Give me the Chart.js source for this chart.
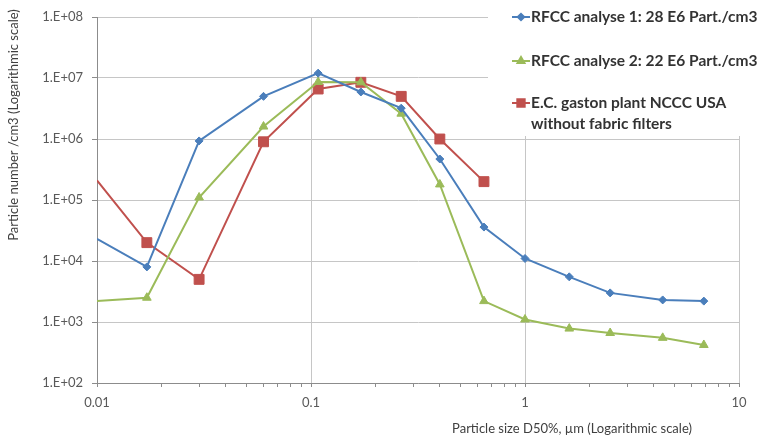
<!DOCTYPE html>
<html>
<head>
<meta charset="utf-8">
<script src="https://cdn.jsdelivr.net/npm/chart.js@4.4.1/dist/chart.umd.min.js"></script>
<style>
  html, body { margin: 0; padding: 0; background: #fff; }
  #wrap { width: 759px; height: 440px; }
</style>
</head>
<body>
<div id="wrap"><canvas id="chart"></canvas></div>
<script>
// particle size D50% (µm) and particle counts per cm3
const sizes = [0.01, 0.0171, 0.030, 0.060, 0.108, 0.171, 0.264, 0.40, 0.643, 1.0, 1.61, 2.5, 4.4, 6.85];
const rfcc1 = [23000, 8000, 930000, 5000000, 12000000, 5900000, 3200000, 470000, 36000, 11000, 5500, 3000, 2300, 2200];
const rfcc2 = [2200, 2500, 110000, 1600000, 8600000, 8500000, 2600000, 180000, 2200, 1100, 780, 660, 550, 420];
const gaston = [210000, 20000, 5000, 900000, 6600000, 8500000, 5000000, 1000000, 200000];

const seriesNames = [
    ['RFCC analyse 1: 28 E6 Part./cm3'],
    ['RFCC analyse 2: 22 E6 Part./cm3'],
    ['E.C. gaston plant NCCC USA', 'without fabric filters']
];
const seriesColors = ['#4a7ebb', '#9bbb59', '#c0504d'];

const yTicks = [1e2, 1e3, 1e4, 1e5, 1e6, 1e7, 1e8];
const yTickLabels = ['1.E+02', '1.E+03', '1.E+04', '1.E+05', '1.E+06', '1.E+07', '1.E+08'];
const xMajor = [0.01, 0.1, 1, 10];
const xMajorLabels = ['0.01', '0.1', '1', '10'];

const xTitle = 'Particle size D50%, µm (Logarithmic scale)';
const yTitle = 'Particle number /cm3 (Logarithmic scale)';

const FONT = 'Lato, "Open Sans", sans-serif';

// minor ticks 2..9 inside each decade
let xAllTicks = [];
for (let d = 0; d < 3; d++) {
    for (let m = 1; m < 10; m++) {
        xAllTicks.push(+(m * xMajor[d]).toPrecision(3));
    }
}
xAllTicks.push(10);

function isMajor(v) {
    return xMajor.some(m => Math.abs(m - v) < 1e-9);
}

function toPoints(values) {
    return values.map((v, i) => ({x: sizes[i], y: v}));
}

// first point sits on the axis with no marker
function radii(values, r) {
    return values.map((v, i) => i === 0 ? 0 : r);
}

// legend on the right, over the top of the plot, plus axis titles
const decorPlugin = {
    id: 'decor',
    afterDraw(chart) {
        const c = chart.ctx;
        c.save();
        c.fillStyle = '#ffffff';
        c.fillRect(488, 0, 271, 136);

        const styles = ['rectRot', 'triangle', 'rect'];
        const sizesPt = [4, 5, 6.5];
        const rows = [17, 61, 103];
        c.font = 'bold 15.5px ' + FONT;
        c.textBaseline = 'middle';
        c.textAlign = 'left';
        for (let i = 0; i < 3; i++) {
            const y = rows[i];
            c.strokeStyle = seriesColors[i];
            c.lineWidth = 2;
            c.beginPath();
            c.moveTo(512, y);
            c.lineTo(530, y);
            c.stroke();
            c.fillStyle = seriesColors[i];
            Chart.helpers.drawPoint(c, {
                pointStyle: styles[i], radius: sizesPt[i] * 0.8, rotation: 0, borderWidth: 1
            }, 521, y);
            c.fillStyle = '#333333';
            seriesNames[i].forEach((line, k) => {
                c.fillText(line, 531, y + k * 21);
            });
        }

        c.fillStyle = '#404040';
        c.font = '13px ' + FONT;
        c.textAlign = 'center';
        c.fillText(xTitle, 572, 429);

        c.translate(14, 125);
        c.rotate(-Math.PI / 2);
        c.fillText(yTitle, 0, 0);
        c.restore();
    }
};

function dataset(label, values, color, style, r) {
    return {
        label: label,
        data: toPoints(values),
        showLine: true,
        borderColor: color,
        backgroundColor: color,
        borderWidth: 2,
        pointStyle: style,
        pointRadius: radii(values, r),
        pointBorderWidth: 1,
        pointHoverRadius: radii(values, r),
        tension: 0
    };
}

new Chart(document.getElementById('chart'), {
    type: 'scatter',
    data: {
        datasets: [
            dataset(seriesNames[0].join(' '), rfcc1, seriesColors[0], 'rectRot', 4),
            dataset(seriesNames[1].join(' '), rfcc2, seriesColors[1], 'triangle', 5),
            dataset(seriesNames[2].join(' '), gaston, seriesColors[2], 'rect', 7)
        ]
    },
    options: {
        responsive: true,
        maintainAspectRatio: false,
        animation: false,
        layout: {padding: {top: 17, right: 20, left: 0, bottom: 0}},
        plugins: {
            legend: {display: false},
            tooltip: {enabled: false}
        },
        scales: {
            x: {
                type: 'logarithmic',
                min: 0.01,
                max: 10,
                afterBuildTicks: scale => {
                    scale.ticks = xAllTicks.map(v => ({value: v}));
                },
                afterFit: scale => { scale.height = 57; },
                ticks: {
                    autoSkip: false,
                    maxRotation: 0,
                    padding: 8,
                    color: '#595959',
                    font: {family: FONT, size: 13},
                    callback: value => {
                        const idx = xMajor.findIndex(m => Math.abs(m - value) < 1e-9);
                        return idx >= 0 ? xMajorLabels[idx] : '';
                    }
                },
                grid: {
                    color: ctx => (ctx.tick && isMajor(ctx.tick.value)) ? '#c6c6c6' : 'rgba(0,0,0,0)',
                    tickColor: '#8c8c8c',
                    tickLength: 4
                },
                border: {color: '#8c8c8c'}
            },
            y: {
                type: 'logarithmic',
                min: 100,
                max: 1e8,
                afterBuildTicks: scale => {
                    scale.ticks = yTicks.map(v => ({value: v}));
                },
                afterFit: scale => { scale.width = 97; },
                ticks: {
                    padding: 9,
                    color: '#595959',
                    font: {family: FONT, size: 13},
                    callback: value => {
                        const idx = yTicks.findIndex(t => Math.abs(t - value) < 1e-6 * t);
                        return idx >= 0 ? yTickLabels[idx] : '';
                    }
                },
                grid: {
                    color: '#c6c6c6',
                    tickColor: '#8c8c8c',
                    tickLength: 5
                },
                border: {color: '#8c8c8c'}
            }
        }
    },
    plugins: [decorPlugin]
});
</script>
</body>
</html>
